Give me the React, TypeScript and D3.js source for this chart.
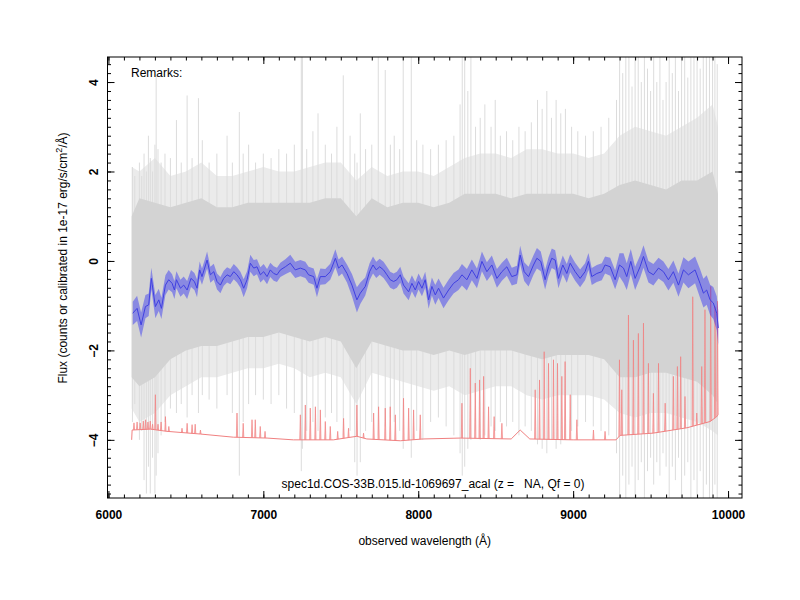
import { useEffect, useRef } from 'react';
import * as d3 from 'd3';

const width = 800;
const height = 600;

// smoothed spectrum (blue line + band)
const blueWave = [
  6157, 6185, 6211, 6239, 6260, 6277, 6303, 6325, 6342, 6368,
  6389, 6411, 6426, 6439, 6465, 6486, 6508, 6533, 6555, 6572,
  6589, 6604, 6621, 6637, 6658, 6680, 6701, 6723, 6744, 6766,
  6787, 6809, 6830, 6852, 6873, 6895, 6916, 6938, 6959, 6981,
  7002, 7024, 7045, 7067, 7088, 7110, 7142, 7174, 7206, 7239,
  7271, 7292, 7325, 7346, 7368, 7400, 7432, 7465, 7486, 7508,
  7540, 7572, 7604, 7626, 7658, 7686, 7708, 7729, 7751, 7776,
  7798, 7819, 7841, 7862, 7884, 7905, 7938, 7959, 7981, 8002,
  8024, 8045, 8067, 8088, 8110, 8131, 8163, 8196, 8228, 8260,
  8282, 8314, 8346, 8379, 8411, 8443, 8475, 8508, 8540, 8572,
  8604, 8637, 8658, 8684, 8712, 8744, 8766, 8791, 8819, 8841,
  8862, 8884, 8905, 8933, 8959, 8981, 9013, 9045, 9077, 9099,
  9120, 9153, 9185, 9206, 9239, 9271, 9299, 9325, 9346, 9372,
  9400, 9432, 9454, 9486, 9518, 9551, 9583, 9615, 9647, 9680,
  9712, 9744, 9787, 9819, 9841, 9862, 9884, 9905, 9927, 9937,
];
const blueFlux = [
  -1.17, -1.06, -1.43, -1.02, -0.98, -0.39, -1.02, -0.87, -1.06, -0.54,
  -0.42, -0.5, -0.65, -0.42, -0.61, -0.54, -0.65, -0.39, -0.46, -0.61,
  -0.2, -0.35, -0.16, 0.02, -0.31, -0.24, -0.46, -0.54, -0.39, -0.31,
  -0.35, -0.24, -0.31, -0.42, -0.61, -0.42, -0.05, -0.16, -0.13, -0.31,
  -0.24, -0.35, -0.2, -0.28, -0.31, -0.2, -0.13, -0.05, -0.2, -0.16,
  -0.2, -0.31, -0.35, -0.61, -0.35, -0.35, -0.24, 0.06, -0.16, -0.09,
  -0.28, -0.54, -0.87, -0.72, -0.57, -0.24, -0.09, -0.2, -0.13, -0.2,
  -0.31, -0.42, -0.46, -0.42, -0.31, -0.54, -0.69, -0.5, -0.65, -0.46,
  -0.61, -0.42, -0.87, -0.57, -0.76, -0.61, -0.83, -0.65, -0.5, -0.42,
  -0.31, -0.42, -0.2, -0.39, -0.01, -0.24, -0.09, -0.39, -0.24, -0.13,
  -0.35, -0.31, 0.13, -0.24, -0.35, -0.09, 0.06, -0.01, -0.42, -0.13,
  0.06, 0.02, -0.39, -0.09, -0.28, -0.05, -0.24, -0.39, -0.24, -0.01,
  -0.35, -0.28, -0.24, -0.09, -0.13, -0.42, -0.09, -0.16, -0.35, -0.01,
  -0.39, -0.13, 0.1, -0.24, -0.31, -0.16, -0.24, -0.42, -0.24, -0.54,
  -0.2, -0.31, -0.2, -0.5, -0.72, -0.65, -0.87, -0.94, -1.17, -1.5,
];
const blueErr = [
  0.26, 0.28, 0.28, 0.26, 0.25, 0.24, 0.26, 0.25, 0.24, 0.22,
  0.22, 0.2, 0.2, 0.19, 0.19, 0.19, 0.2, 0.19, 0.19, 0.2,
  0.19, 0.18, 0.18, 0.19, 0.18, 0.18, 0.18, 0.18, 0.17, 0.17,
  0.17, 0.17, 0.17, 0.18, 0.2, 0.19, 0.19, 0.18, 0.17, 0.17,
  0.17, 0.17, 0.16, 0.16, 0.16, 0.16, 0.17, 0.19, 0.18, 0.18,
  0.18, 0.18, 0.18, 0.2, 0.18, 0.17, 0.18, 0.2, 0.19, 0.19,
  0.2, 0.25, 0.28, 0.24, 0.2, 0.19, 0.19, 0.18, 0.18, 0.18,
  0.18, 0.18, 0.18, 0.18, 0.18, 0.19, 0.19, 0.18, 0.18, 0.18,
  0.18, 0.18, 0.2, 0.2, 0.22, 0.22, 0.23, 0.23, 0.23, 0.23,
  0.24, 0.24, 0.23, 0.22, 0.22, 0.21, 0.21, 0.21, 0.2, 0.2,
  0.2, 0.2, 0.21, 0.21, 0.22, 0.22, 0.23, 0.22, 0.22, 0.21,
  0.22, 0.22, 0.22, 0.21, 0.21, 0.2, 0.2, 0.2, 0.19, 0.19,
  0.19, 0.19, 0.19, 0.19, 0.2, 0.21, 0.26, 0.33, 0.3, 0.28,
  0.26, 0.25, 0.25, 0.24, 0.24, 0.23, 0.23, 0.24, 0.25, 0.26,
  0.28, 0.3, 0.3, 0.32, 0.32, 0.33, 0.34, 0.36, 0.38, 0.38,
];

// raw spectrum (grey): dense core and lighter outer envelope
const greyWave = [
  6150, 6200, 6300, 6400, 6500, 6600, 6700, 6800, 6900, 7000,
  7100, 7200, 7300, 7400, 7500, 7600, 7700, 7800, 7900, 8000,
  8100, 8200, 8300, 8400, 8500, 8600, 8700, 8800, 8900, 9000,
  9100, 9200, 9300, 9400, 9500, 9600, 9700, 9800, 9900, 9935,
];
const greyCoreHi = [
  1.0, 1.4, 1.3, 1.2, 1.3, 1.4, 1.2, 1.2, 1.3, 1.3,
  1.3, 1.3, 1.3, 1.4, 1.4, 1.0, 1.4, 1.2, 1.3, 1.3,
  1.2, 1.3, 1.5, 1.5, 1.5, 1.4, 1.5, 1.5, 1.5, 1.5,
  1.4, 1.5, 1.7, 1.8, 1.7, 1.6, 1.8, 1.8, 2.0, 1.5,
];
const greyCoreLo = [
  -2.6, -2.8, -2.6, -2.2, -2.0, -1.9, -1.9, -1.8, -1.7, -1.7,
  -1.6, -1.7, -1.8, -1.7, -1.8, -2.4, -1.8, -1.9, -2.0, -2.0,
  -2.1, -2.0, -2.1, -2.0, -2.0, -2.0, -2.1, -2.2, -2.1, -2.1,
  -2.1, -2.2, -2.6, -2.6, -2.5, -2.5, -2.6, -2.7, -3.0, -3.2,
];
const greyOuterHi = [
  2.1, 2.0, 2.3, 1.9, 2.0, 2.2, 1.9, 1.9, 2.0, 2.1,
  2.0, 2.0, 2.1, 2.2, 2.2, 1.8, 2.1, 1.9, 2.0, 2.0,
  1.9, 2.1, 2.3, 2.4, 2.4, 2.3, 2.5, 2.5, 2.4, 2.4,
  2.3, 2.4, 2.8, 3.0, 2.9, 2.8, 3.0, 3.2, 3.5, 3.0,
];
const greyOuterLo = [
  -3.3, -3.6, -3.4, -3.0, -2.8, -2.6, -2.6, -2.5, -2.4, -2.4,
  -2.3, -2.4, -2.6, -2.5, -2.6, -3.2, -2.5, -2.6, -2.7, -2.8,
  -2.9, -2.8, -3.0, -2.9, -2.8, -2.8, -3.0, -3.1, -3.0, -3.0,
  -3.0, -3.1, -3.4, -3.5, -3.4, -3.4, -3.5, -3.6, -3.8, -3.9,
];

// single raw pixels that stick out of the envelope
const spikeWave = [
  6155, 6170, 6200, 6215, 6230, 6245, 6258, 6270, 6285, 6300,
  6308, 6320, 6340, 6365, 6400, 6439, 6470, 6508, 6540, 6581,
  6606, 6650, 6700, 6766, 6800, 6845, 6870, 6905, 6950, 7000,
  7050, 7100, 7150, 7200, 7245, 7252, 7280, 7320, 7353, 7400,
  7440, 7475, 7516, 7560, 7590, 7605, 7626, 7660, 7700, 7742,
  7787, 7820, 7845, 7880, 7903, 7955, 7990, 8030, 8080, 8130,
  8180, 8230, 8270, 8284, 8300, 8320, 8340, 8370, 8400, 8430,
  8470, 8497, 8530, 8570, 8610, 8650, 8690, 8730, 8770, 8800,
  8830, 8860, 8890, 8920, 8950, 8990, 9030, 9080, 9130, 9180,
  9230, 9280, 9300, 9320, 9340, 9360, 9380, 9400, 9420, 9440,
  9460, 9480, 9500, 9520, 9540, 9560, 9580, 9600, 9620, 9640,
  9660, 9680, 9700, 9720, 9740, 9760, 9780, 9800, 9820, 9840,
  9860, 9880, 9900, 9915, 9930,
];
const spikeLo = [
  -3.6, -3.2, -4.0, -3.8, -4.9, -5.2, -4.6, -5.2, -4.4, -5.2,
  -4.8, -4.3, -3.9, -3.6, -3.3, -3.4, -3.2, -3.5, -3.0, -3.4,
  -3.0, -3.1, -3.3, -3.0, -3.4, -4.8, -3.6, -3.2, -3.0, -3.1,
  -3.2, -3.0, -3.3, -3.4, -4.7, -4.2, -3.8, -3.6, -3.8, -3.5,
  -3.4, -3.6, -3.9, -3.8, -4.5, -4.8, -4.5, -3.8, -3.6, -3.9,
  -3.7, -3.5, -3.6, -3.8, -4.2, -4.4, -3.8, -4.0, -3.6, -3.5,
  -3.7, -3.9, -4.3, -4.8, -4.6, -4.2, -4.0, -3.8, -4.0, -3.9,
  -3.7, -3.8, -3.6, -3.7, -3.6, -3.9, -3.7, -3.8, -4.1, -4.2,
  -4.3, -4.0, -4.2, -4.1, -4.0, -3.8, -3.7, -3.6, -3.7, -3.8,
  -3.9, -4.3, -5.3, -4.8, -5.3, -5.0, -4.6, -5.3, -4.9, -4.5,
  -5.3, -4.7, -4.4, -5.0, -4.5, -4.8, -4.3, -4.6, -5.3, -4.6,
  -4.9, -4.4, -5.3, -4.8, -4.5, -5.3, -4.9, -5.3, -4.7, -5.3,
  -5.0, -5.3, -5.3, -5.0, -5.3,
];
const spikeHi = [
  2.1, 1.9, 2.2, 1.9, 2.4, 2.0, 2.8, 2.3, 2.0, 2.6,
  4.15, 2.5, 2.2, 2.4, 2.3, 3.15, 2.2, 3.7, 2.3, 3.64,
  2.7, 2.2, 2.4, 2.8, 2.2, 3.33, 2.4, 2.6, 2.2, 2.4,
  2.3, 2.5, 2.4, 2.6, 4.6, 4.6, 2.5, 2.9, 3.3, 2.6,
  2.4, 3.0, 4.15, 2.8, 2.4, 2.2, 3.3, 2.5, 2.6, 4.6,
  4.27, 2.6, 2.8, 2.5, 4.6, 4.6, 2.7, 2.6, 2.5, 2.6,
  2.7, 2.8, 3.5, 4.6, 4.6, 3.8, 4.6, 3.0, 3.2, 3.5,
  3.0, 3.6, 2.8, 2.9, 2.7, 3.0, 2.9, 3.1, 3.6, 3.4,
  3.8, 3.2, 3.6, 3.3, 3.4, 3.0, 2.9, 2.8, 2.9, 3.0,
  3.2, 3.6, 4.6, 4.2, 4.6, 4.6, 3.9, 4.6, 4.6, 4.0,
  4.6, 4.3, 3.8, 4.6, 4.0, 4.6, 3.6, 4.0, 4.6, 4.2,
  4.6, 3.8, 4.6, 4.6, 4.1, 4.6, 4.6, 4.6, 4.3, 4.6,
  4.6, 4.6, 4.6, 4.6, 4.4,
];

// noise / sky spectrum (red): continuum and sky emission lines
const redWave = [
  6150, 6153, 6271, 6378, 6594, 6806, 7024, 7194, 7452, 7604,
  7668, 7884, 8032, 8271, 8600, 8658, 8720, 9000, 9277, 9303,
  9516, 9735, 9884, 9920, 9935,
];
const redFlux = [
  -4.0, -3.78, -3.76, -3.81, -3.87, -3.94, -3.96, -4.0, -4.0, -3.92,
  -3.98, -4.02, -3.98, -3.96, -3.98, -3.78, -3.98, -4.0, -4.0, -3.9,
  -3.85, -3.73, -3.59, -3.5, -3.45,
];
const skyWave = [
  6165, 6185, 6205, 6225, 6240, 6255, 6270, 6285, 6303, 6320,
  6340, 6368, 6390, 6475, 6508, 6540, 6560, 6594, 6830, 6870,
  6927, 6948, 6980, 7011, 7239, 7271, 7303, 7336, 7368, 7400,
  7432, 7480, 7518, 7550, 7604, 7647, 7712, 7744, 7787, 7819,
  7852, 7905, 7938, 7970, 8013, 8282, 8336, 8368, 8396, 8422,
  8454, 8490, 8540, 8755, 8783, 8813, 8841, 8873, 8899, 8927,
  8948, 8981, 9024, 9131, 9206, 9299, 9314, 9357, 9389, 9421,
  9454, 9486, 9518, 9551, 9594, 9647, 9673, 9694, 9722, 9772,
  9798, 9830, 9851, 9888, 9916, 9932,
];
const skyPeak = [
  -3.62, -3.6, -3.62, -3.58, -3.55, -3.6, -3.58, -3.65, -2.99, -3.65,
  -3.6, -3.48, -3.7, -3.74, -3.63, -3.66, -3.65, -3.78, -3.4, -3.63,
  -3.55, -3.55, -3.7, -3.81, -3.44, -3.22, -3.29, -3.26, -3.33, -3.59,
  -3.7, -3.81, -3.52, -3.74, -3.22, -3.85, -3.4, -3.26, -3.29, -3.26,
  -3.44, -3.07, -3.29, -3.33, -3.44, -3.18, -2.4, -2.73, -2.66, -2.58,
  -3.26, -3.48, -3.63, -2.88, -2.66, -2.03, -2.29, -2.21, -2.29, -2.58,
  -2.25, -2.99, -3.55, -3.78, -3.81, -2.21, -2.88, -1.21, -1.77, -1.62,
  -1.39, -2.29, -2.96, -2.29, -3.18, -2.58, -2.36, -2.14, -3.03, -0.8,
  -3.4, -2.36, -1.09, -0.57, -1.02, -0.9,
];

const xTicks = [6000, 7000, 8000, 9000, 10000];
const yTicks = [-4, -2, 0, 2, 4];

const title = 'spec1d.COS-33B.015.ld-1069697_acal (z =\u00a0\u00a0 NA, Qf = 0)';
const font = '"Liberation Sans", Arial, Helvetica, sans-serif';

const left = 107.5;
const right = 742;
const top = 57;
const bottom = 498;

export default function App() {
  const svgRef = useRef<SVGSVGElement>(null);

  useEffect(() => {
    const svg = d3.select(svgRef.current);
    svg.selectAll('*').remove();

    const x = d3.scaleLinear().domain([5994, 10090]).range([left, right]);
    const y = d3.scaleLinear().domain([-5.3, 4.56]).range([bottom, top]);

    svg.append('rect').attr('width', width).attr('height', height).attr('fill', 'white');

    svg.append('clipPath').attr('id', 'plot-clip')
      .append('rect')
      .attr('x', left).attr('y', top)
      .attr('width', right - left).attr('height', bottom - top);

    const plot = svg.append('g').attr('clip-path', 'url(#plot-clip)');
    const gi = d3.range(greyWave.length);

    // grey raw spectrum
    plot.append('path')
      .attr('d', d3.area<number>()
        .x(i => x(greyWave[i]))
        .y0(i => y(greyOuterLo[i]))
        .y1(i => y(greyOuterHi[i]))(gi))
      .attr('fill', '#ebebeb');

    plot.selectAll('line.spike')
      .data(spikeWave)
      .enter()
      .append('line')
      .attr('class', 'spike')
      .attr('x1', d => x(d))
      .attr('x2', d => x(d))
      .attr('y1', (d, i) => y(spikeLo[i]))
      .attr('y2', (d, i) => y(spikeHi[i]))
      .attr('stroke', '#dcdcdc')
      .attr('stroke-width', 1);

    plot.append('path')
      .attr('d', d3.area<number>()
        .x(i => x(greyWave[i]))
        .y0(i => y(greyCoreLo[i]))
        .y1(i => y(greyCoreHi[i]))(gi))
      .attr('fill', '#d3d3d3');

    // red noise / sky lines
    const redBase = d3.scaleLinear().domain(redWave).range(redFlux);
    plot.selectAll('path.sky')
      .data(skyWave)
      .enter()
      .append('path')
      .attr('class', 'sky')
      .attr('d', (d, i) => d3.line()([
        [x(d - 4), y(redBase(d - 4))],
        [x(d), y(skyPeak[i])],
        [x(d + 4), y(redBase(d + 4))],
      ]))
      .attr('fill', '#f9c4c4')
      .attr('stroke', '#f08080')
      .attr('stroke-width', 0.7);

    plot.append('path')
      .attr('d', d3.line<number>()
        .x(i => x(redWave[i]))
        .y(i => y(redFlux[i]))(d3.range(redWave.length)))
      .attr('fill', 'none')
      .attr('stroke', '#f08080')
      .attr('stroke-width', 1);

    // blue smoothed spectrum
    const bi = d3.range(blueWave.length);
    plot.append('path')
      .attr('d', d3.area<number>()
        .x(i => x(blueWave[i]))
        .y0(i => y(blueFlux[i] - blueErr[i]))
        .y1(i => y(blueFlux[i] + blueErr[i]))(bi))
      .attr('fill', '#0000ff')
      .attr('fill-opacity', 0.35);

    plot.append('path')
      .attr('d', d3.line<number>()
        .x(i => x(blueWave[i]))
        .y(i => y(blueFlux[i]))(bi))
      .attr('fill', 'none')
      .attr('stroke', '#4040e0')
      .attr('stroke-width', 1);

    // axes, ticks inward on all four sides
    const styleAxis = (g: any) => {
      g.select('.domain').remove();
      g.selectAll('line').attr('stroke', 'black');
    };

    svg.append('g')
      .attr('transform', `translate(0,${bottom})`)
      .call(d3.axisBottom(x).ticks(40).tickSize(-3.5).tickFormat(() => ''))
      .call(styleAxis);
    svg.append('g')
      .attr('transform', `translate(0,${top})`)
      .call(d3.axisTop(x).ticks(40).tickSize(-3.5).tickFormat(() => ''))
      .call(styleAxis);
    svg.append('g')
      .attr('transform', `translate(${left},0)`)
      .call(d3.axisLeft(y).ticks(50).tickSize(-3.5).tickFormat(() => ''))
      .call(styleAxis);
    svg.append('g')
      .attr('transform', `translate(${right},0)`)
      .call(d3.axisRight(y).ticks(50).tickSize(-3.5).tickFormat(() => ''))
      .call(styleAxis);

    const xAxis = svg.append('g')
      .attr('transform', `translate(0,${bottom})`)
      .call(d3.axisBottom(x).tickValues(xTicks).tickSize(-7).tickPadding(12).tickFormat(d3.format('d')))
      .call(styleAxis);
    xAxis.attr('font-family', font).attr('font-size', 12);
    xAxis.selectAll('text').attr('font-weight', 'bold').attr('fill', 'black');

    svg.append('g')
      .attr('transform', `translate(0,${top})`)
      .call(d3.axisTop(x).tickValues(xTicks).tickSize(-7).tickFormat(() => ''))
      .call(styleAxis);

    const yAxis = svg.append('g')
      .attr('transform', `translate(${left},0)`)
      .call(d3.axisLeft(y).tickValues(yTicks).tickSize(-7).tickFormat(d3.format('d')))
      .call(styleAxis);
    yAxis.attr('font-family', font).attr('font-size', 12);
    yAxis.selectAll('text')
      .attr('x', 0)
      .attr('y', -10)
      .attr('dy', 0)
      .attr('transform', 'rotate(-90)')
      .attr('text-anchor', 'middle')
      .attr('font-weight', 'bold')
      .attr('fill', 'black');

    svg.append('g')
      .attr('transform', `translate(${right},0)`)
      .call(d3.axisRight(y).tickValues(yTicks).tickSize(-7).tickFormat(() => ''))
      .call(styleAxis);

    svg.append('rect')
      .attr('x', left).attr('y', top)
      .attr('width', right - left).attr('height', bottom - top)
      .attr('fill', 'none')
      .attr('stroke', 'black')
      .attr('stroke-width', 1);

    // texts
    const txt = svg.append('g').attr('font-family', font).attr('font-size', 12).attr('fill', 'black');

    txt.append('text').attr('x', 131).attr('y', 77).text('Remarks:');

    txt.append('text')
      .attr('x', 433).attr('y', 488)
      .attr('text-anchor', 'middle')
      .text(title);

    txt.append('text')
      .attr('x', (left + right) / 2).attr('y', 545)
      .attr('text-anchor', 'middle')
      .text('observed wavelength (Å)');

    const yTitle = txt.append('text')
      .attr('transform', 'translate(67,258) rotate(-90)')
      .attr('text-anchor', 'middle');
    yTitle.append('tspan').text('Flux (counts or calibrated in 1e-17 erg/s/cm');
    yTitle.append('tspan').attr('dy', -5).attr('font-size', 9).text('2');
    yTitle.append('tspan').attr('dy', 5).text('/Å)');
  }, []);

  return (
    <svg
      ref={svgRef}
      width={width}
      height={height}
      style={{ position: 'absolute', left: 0, top: 0, display: 'block' }}
    />
  );
}
